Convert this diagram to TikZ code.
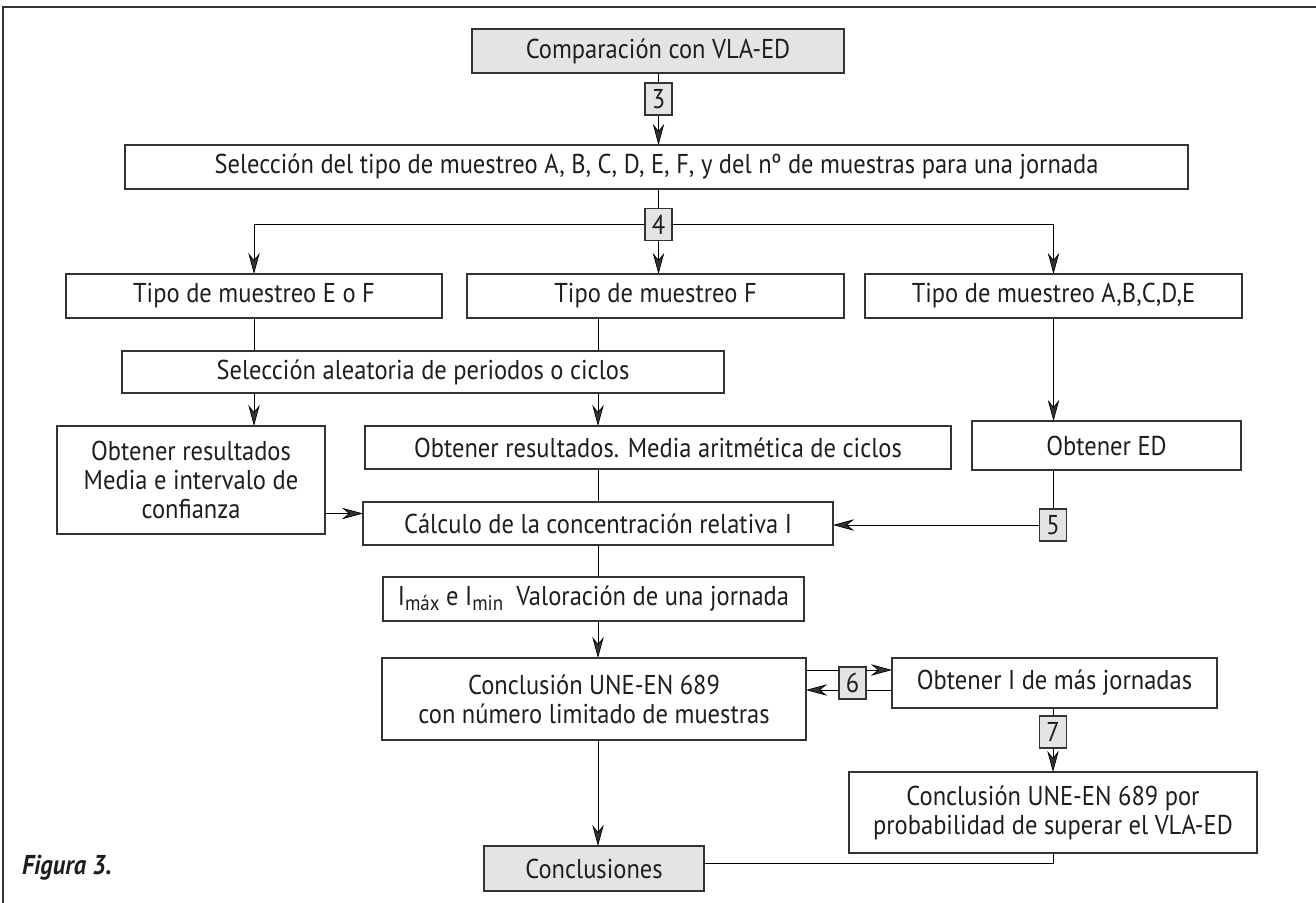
\documentclass[tikz,border=0pt]{standalone}
\usepackage{fontspec}
\setmainfont{PT Sans}[FakeStretch=0.9]
\usepackage{tikz}
\usetikzlibrary{arrows.meta, backgrounds}
\definecolor{gris}{HTML}{E4E4E4}
\definecolor{linea}{HTML}{333333}
\definecolor{texto}{HTML}{1E1E1E}

\begin{document}
\begin{tikzpicture}[x=0.02cm, y=-0.02cm,
  font=\fontsize{15.5}{16.5}\selectfont, text=texto,
  caja/.style 2 args={draw=linea, line width=0.8pt, fill=white, inner sep=0pt,
    outer sep=0pt, align=center, minimum width=#1*0.02cm, minimum height=#2*0.02cm},
  num/.style={draw=linea, line width=0.8pt, fill=gris, inner sep=0pt, outer sep=0pt,
    minimum width=27*0.02cm, minimum height=32*0.02cm},
  flecha/.style={-{Stealth[length=12pt, width=6.5pt, inset=4pt]}}]

\useasboundingbox (0,0) rectangle (1316,903);

% marco
\draw[linea, line width=1pt] (3,903) -- (3,7) -- (1316,7);

% cajas
\node[caja={372}{44}, fill=gris] (comp) at (658,51) {Comparación con VLA-ED};
\node[num] (n3) at (658.5,99) {3};
\node[caja={1063}{44}] (sel) at (656.5,167) {Selección del tipo de muestreo A, B, C, D, E, F, y del nº de muestras para una jornada};
\node[num] (n4) at (658.5,224.5) {4};

\node[caja={376}{44}] (tEF) at (254,296) {Tipo de muestreo E o F};
\node[caja={377}{44}] (tF) at (655.5,296) {Tipo de muestreo F};
\node[caja={377}{44}] (tA) at (1053.5,296) {Tipo de muestreo A,B,C,D,E};

\node[caja={602}{42}] (alea) at (423,372) {Selección aleatoria de periodos o ciclos};
\node[caja={268}{108}] (resIC) at (191,480) {Obtener resultados\\Media e intervalo de\\confianza};
\node[caja={586}{43}] (resMA) at (658,447.5) {Obtener resultados. Media aritmética de ciclos};
\node[caja={269}{49}] (ed) at (1106.5,445.5) {Obtener ED};
\node[num] (n5) at (1053,525) {5};

\node[caja={470}{43}] (calc) at (598,523.5) {Cálculo de la concentración relativa I};
\node[caja={421}{44}] (imax) at (593.5,599) {I\raisebox{-0.35ex}{\fontsize{12}{12}\selectfont máx} e I\raisebox{-0.35ex}{\fontsize{12}{12}\selectfont min}\ \ Valoración de una jornada};
\node[caja={424}{82}] (une) at (594,699) {Conclusión UNE-EN 689\\con número limitado de muestras};
\node[num] (n6) at (852.5,683) {6};
\node[caja={325}{50}] (masj) at (1054.5,683) {Obtener I de más jornadas};
\node[num] (n7) at (1053,732) {7};
\node[caja={408}{81}] (prob) at (1053,812.5) {Conclusión UNE-EN 689 por\\probabilidad de superar el VLA-ED};
\node[caja={220}{45}, fill=gris] (concl) at (594,868.5) {Conclusiones};

\node[anchor=west, font=\fontsize{15.5}{16.5}\selectfont\bfseries\itshape] (fig) at (16,868) {Figura 3.};

% conectores
\begin{scope}[on background layer, draw=linea, line width=0.8pt]
\draw (comp.south -| n3) -- (n3);
\draw[flecha] (n3) -- (sel.north -| n3);
\draw (sel.south -| n4) -- (n4);
\draw[flecha] (n4) -- (tF.north -| n4);
\draw[flecha] (n4.west) -| (tEF.north);
\draw[flecha] (n4.east) -| (tA.north);
\draw (tEF.south) -- (alea.north -| tEF);
\draw (tF.south -| calc) -- (alea.north -| calc);
\draw[flecha] (alea.south -| tEF) -- (resIC.north -| tEF);
\draw[flecha] (alea.south -| calc) -- (resMA.north -| calc);
\draw (resMA.south -| calc) -- (calc);
\draw[flecha] ([yshift=0.2cm]calc.west -| resIC.east) -- ([yshift=0.2cm]calc.west);
\draw[flecha] (tA.south) -- (ed.north -| tA);
\draw (ed.south -| n5) -- (n5);
\draw[flecha] (n5) -- (n5 -| calc.east);
\draw (calc) -- (imax.north -| calc);
\draw[flecha] (imax.south -| calc) -- (une.north -| calc);
\draw[flecha] ([yshift=0.26cm]n6.center -| une.east) -- ([yshift=0.26cm]n6.center -| masj.west);
\draw[flecha] ([yshift=-0.14cm]n6.center -| masj.west) -- ([yshift=-0.14cm]n6.center -| une.east);
\draw (masj.south -| n7) -- (n7);
\draw[flecha] (n7) -- (prob.north -| n7);
\draw[flecha] (une.south -| calc) -- (concl.north -| calc);
\draw (prob.south -| n7) |- ([yshift=0.1cm]concl.east);
\end{scope}

\end{tikzpicture}
\end{document}
